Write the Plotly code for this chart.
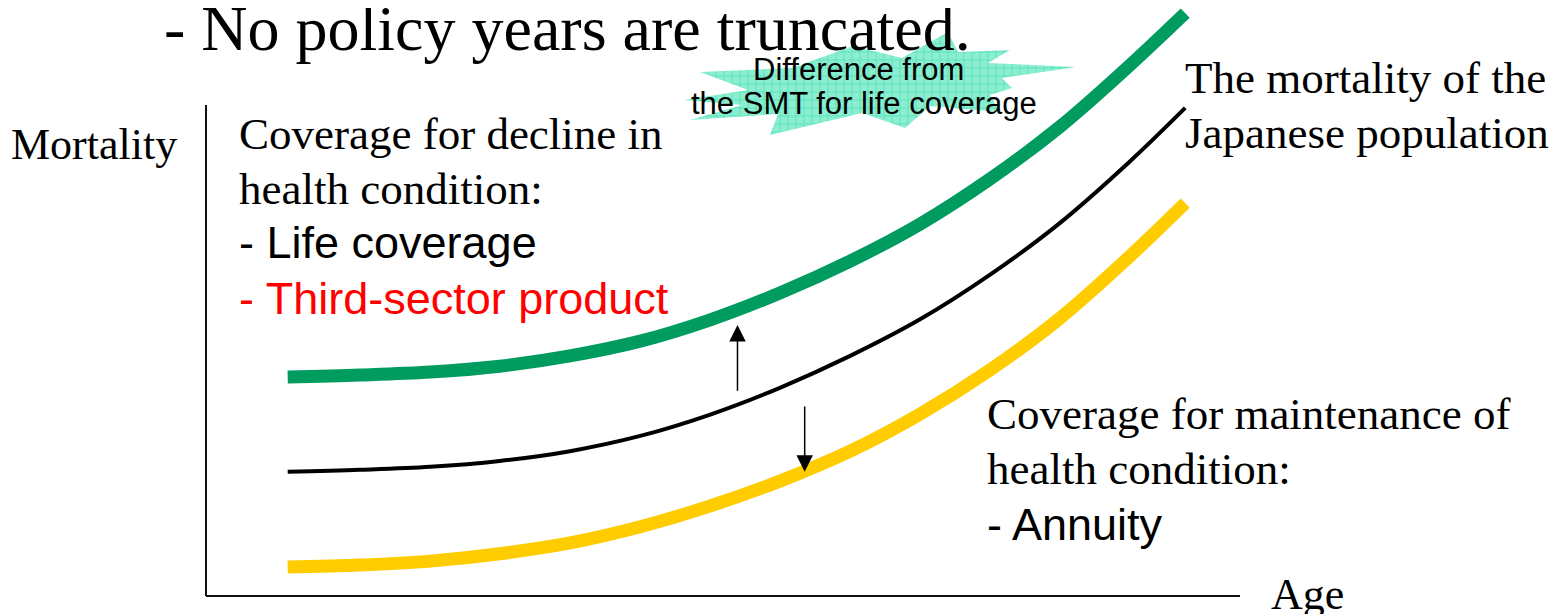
import plotly.graph_objects as go

# ---------------- data ----------------
# Age (0..100 along the drawn axis) and Mortality (0..100 along the drawn axis)
age_pts = [7.9, 14.9, 21.7, 28.4, 35.2, 42.0, 48.7, 55.5, 62.3, 69.1, 75.8, 82.6, 89.4, 94.7]

life_mort = [44.6, 45.0, 45.6, 46.8, 48.9, 51.9, 56.2, 61.7, 68.2, 75.8, 84.9, 95.6, 108.2, 118.7]
pop_mort = [25.3, 25.7, 26.3, 27.5, 29.5, 32.6, 36.9, 42.4, 48.9, 56.4, 65.4, 76.0, 88.6, 99.4]
ann_mort = [5.9, 6.3, 7.1, 8.6, 10.8, 14.1, 18.3, 23.4, 29.5, 37.1, 46.0, 56.6, 69.3, 80.0]

# arrows: (age, from mortality, to mortality)
arrow_up = (51.4, 41.5, 55.2)
arrow_down = (57.9, 38.9, 25.3)

title_text = "- No policy years are truncated."
y_label = "Mortality"
x_label = "Age"
burst_lines = ["Difference from", "the SMT for life coverage"]
left_block = ["Coverage for decline in", "health condition:"]
left_items = ["- Life coverage", "- Third-sector product"]
right_top = ["The mortality of the", "Japanese population"]
right_bottom = ["Coverage for maintenance of", "health condition:"]
right_item = "- Annuity"

# ---------------- geometry ----------------
W, H = 1566, 614
OFF = 8                    # page body margin
X0_PX, X1_PX = 206, 1240   # Age 0 .. 100 (page pixels)
Y0_PX, Y1_PX = 596, 105    # Mortality 0 .. 100 (page pixels)


def ax(px):
    return (px - X0_PX) / (X1_PX - X0_PX) * 100


def ay(py):
    return (Y0_PX - py) / (Y0_PX - Y1_PX) * 100


def px_(x):
    return (x - OFF) / W


def py_(y):
    return 1 - (y - OFF) / H


SERIF = "Liberation Serif, Times New Roman, serif"
SANS = "Liberation Sans, Arial, sans-serif"
GREEN = "#009B5F"
YELLOW = "#FFCC00"

fig = go.Figure()

# starburst callout (decoration)
burst_px = [(684, 100), (748, 90), (700, 72), (792, 68), (853, 46), (902, 58),
            (948, 32), (958, 52), (1010, 50), (988, 63), (1076, 67), (1002, 78),
            (1012, 88), (990, 95), (1000, 112), (930, 106), (905, 128),
            (862, 113), (770, 135), (778, 114), (690, 120), (742, 105)]
bx = [ax(p[0]) for p in burst_px] + [ax(burst_px[0][0])]
by = [ay(p[1]) for p in burst_px] + [ay(burst_px[0][1])]
fig.add_trace(go.Scatter(
    x=bx, y=by, mode="lines", fill="toself",
    line=dict(width=0, color="rgba(0,0,0,0)"),
    fillcolor="#86EECF",
    fillpattern=dict(shape="+", fgcolor="#2ED29E", bgcolor="#8AEFD1",
                     size=8, solidity=0.2),
    hoverinfo="skip", showlegend=False))

fig.add_trace(go.Scatter(x=age_pts, y=life_mort, mode="lines",
                         line=dict(color=GREEN, width=13, shape="spline", smoothing=1.0),
                         showlegend=False, hoverinfo="skip"))
fig.add_trace(go.Scatter(x=age_pts, y=pop_mort, mode="lines",
                         line=dict(color="black", width=4, shape="spline", smoothing=1.0),
                         showlegend=False, hoverinfo="skip"))
fig.add_trace(go.Scatter(x=age_pts, y=ann_mort, mode="lines",
                         line=dict(color=YELLOW, width=13, shape="spline", smoothing=1.0),
                         showlegend=False, hoverinfo="skip"))

# axes lines
fig.add_shape(type="line", x0=0, x1=0, y0=0, y1=100, xref="x", yref="y",
              line=dict(color="#111111", width=2))
fig.add_shape(type="line", x0=0, x1=100, y0=0, y1=0, xref="x", yref="y",
              line=dict(color="#111111", width=2))

annotations = []


def txt(text, x, y, size, family, color="black", xanchor="left"):
    annotations.append(dict(text=text, x=px_(x), y=py_(y), xref="paper", yref="paper",
                            xanchor=xanchor, yanchor="middle", showarrow=False,
                            font=dict(size=size, family=family, color=color)))


txt(title_text, 162, 28, 64, SERIF)
txt(y_label, 9, 144, 44, SERIF)
txt(x_label, 1269, 594, 44, SERIF)
txt(burst_lines[0], 859, 69, 31, SANS, xanchor="center")
txt(burst_lines[1], 864, 104, 31, SANS, xanchor="center")
txt(left_block[0], 237, 134, 45, SERIF)
txt(left_block[1], 237, 189, 45, SERIF)
txt(left_items[0], 237, 243, 45, SANS)
txt(left_items[1], 237, 298, 45, SANS, color="#FF0000")
txt(right_top[0], 1183, 78, 45, SERIF)
txt(right_top[1], 1183, 133, 45, SERIF)
txt(right_bottom[0], 985, 414, 45, SERIF)
txt(right_bottom[1], 985, 469, 45, SERIF)
txt(right_item, 985, 524, 45, SANS)

for (a, m0, m1) in (arrow_up, arrow_down):
    annotations.append(dict(x=a, y=m1, ax=a, ay=m0, xref="x", yref="y",
                            axref="x", ayref="y", text="", showarrow=True,
                            arrowhead=2, arrowsize=2.2, arrowwidth=1.5,
                            arrowcolor="black", standoff=0, startstandoff=0))

fig.update_layout(
    width=W, height=H,
    margin=dict(l=0, r=0, t=0, b=0),
    paper_bgcolor="white", plot_bgcolor="white",
    xaxis=dict(range=[ax(OFF), ax(OFF + W)], visible=False, fixedrange=True),
    yaxis=dict(range=[ay(OFF + H), ay(OFF)], visible=False, fixedrange=True),
    annotations=annotations,
    showlegend=False,
)

fig.write_html("out.html")
